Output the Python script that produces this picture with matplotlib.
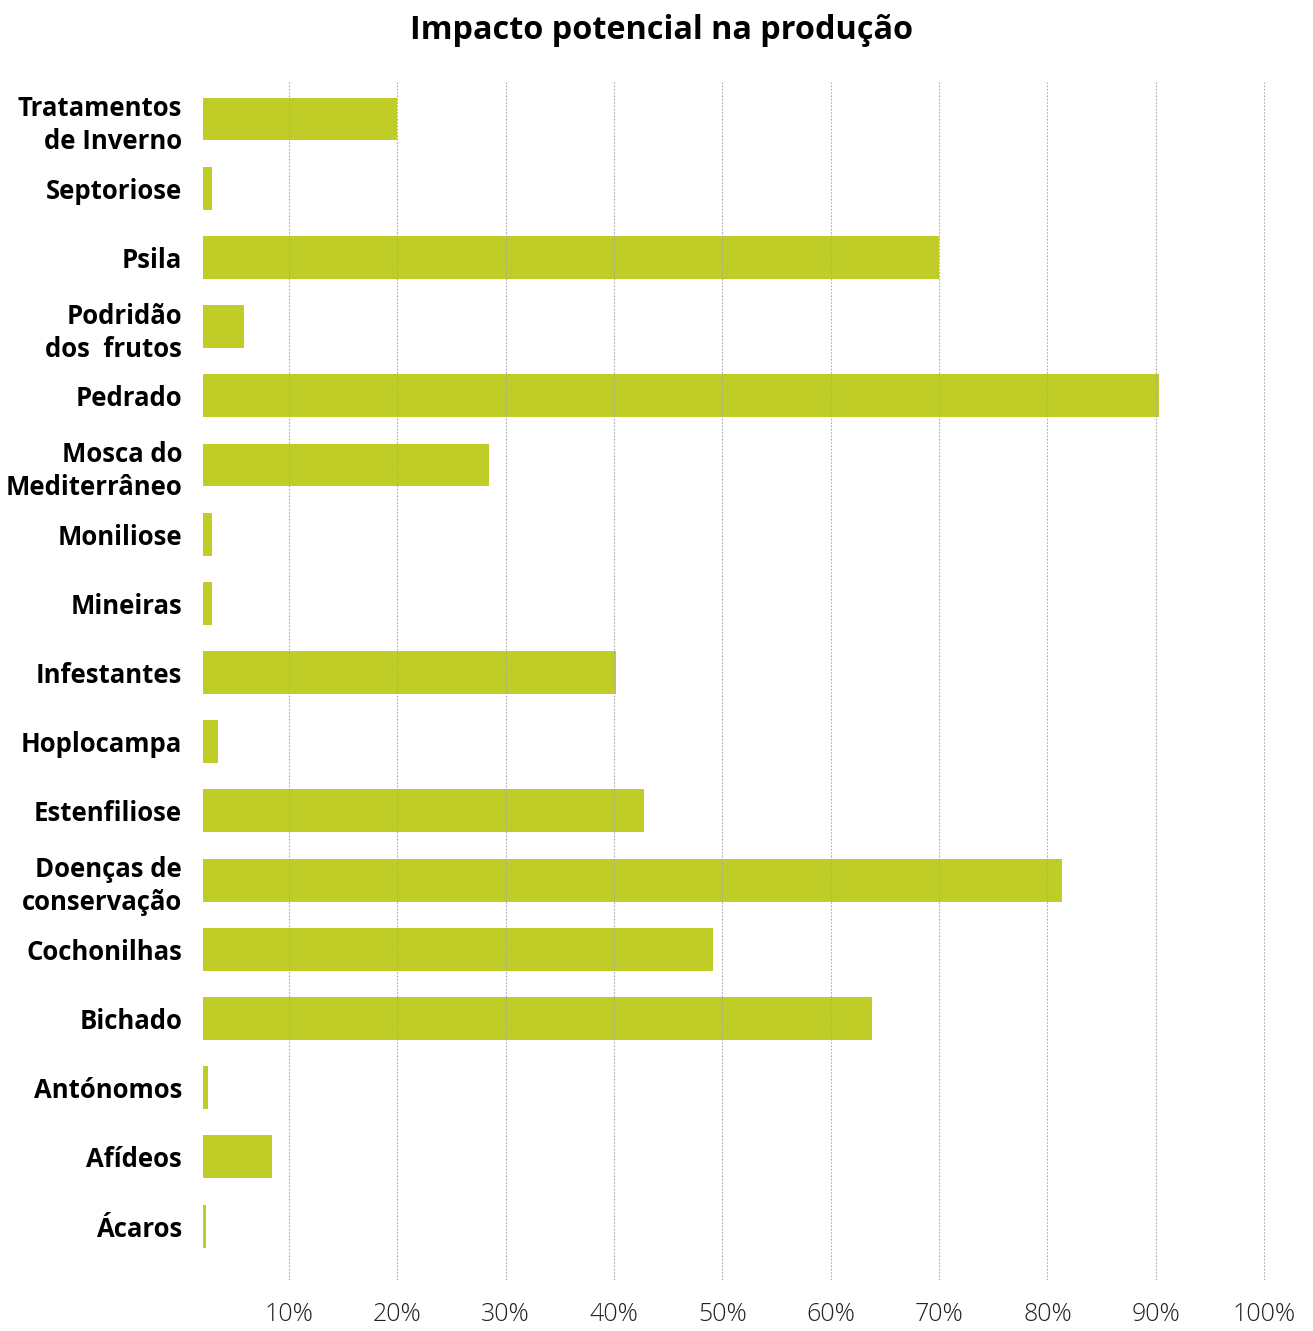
import matplotlib
matplotlib.use('Agg')
import matplotlib.pyplot as plt
import numpy as np

# categories, top to bottom
categories = [
    'Tratamentos\nde Inverno', 'Septoriose', 'Psila', 'Podridão\ndos  frutos',
    'Pedrado', 'Mosca do\nMediterrâneo', 'Moniliose', 'Mineiras',
    'Infestantes', 'Hoplocampa', 'Estenfiliose', 'Doenças de\nconservação',
    'Cochonilhas', 'Bichado', 'Antónomos', 'Afídeos', 'Ácaros',
]
impacto = [20, 2.9, 70, 5.8, 90.3, 28.5, 2.9, 2.9, 40.2, 3.4, 42.8, 81.3,
           49.1, 63.8, 2.5, 8.4, 2.3]
tick_values = [10, 20, 30, 40, 50, 60, 70, 80, 90, 100]
tick_labels = ['10%', '20%', '30%', '40%', '50%', '60%', '70%', '80%', '90%', '100%']

plt.rcParams['font.family'] = ['Open Sans', 'DejaVu Sans']

fig = plt.figure(figsize=(13.13, 13.31), dpi=100)
ax = fig.add_axes([0.1546, 0.0383, 0.8127, 0.9001])

y = np.arange(len(categories))
ax.barh(y, impacto, height=0.62, color='#c0cd26', zorder=1)

ax.set_xlim(2.06, 100.55)
ax.set_ylim(16.78, -0.535)

ax.set_xticks(tick_values)
ax.set_xticklabels(tick_labels, fontsize=18, fontweight='light', color='#222222')
ax.set_yticks(y)
ax.set_yticklabels(categories, fontsize=18.5, fontweight='bold', color='black',
                   linespacing=1.3)
ax.tick_params(axis='both', length=0)
ax.tick_params(axis='x', pad=16)
ax.tick_params(axis='y', pad=15)

ax.grid(axis='x', linestyle=(0, (1.5, 1.5)), color='#aaaaaa', linewidth=0.8, zorder=2)
ax.set_axisbelow(False)
for s in ax.spines.values():
    s.set_visible(False)

fig.text(0.504, 0.977, 'Impacto potencial na produção', ha='center', va='center',
         fontsize=23.3, fontweight='bold')

fig.savefig('out.png', dpi=100)
